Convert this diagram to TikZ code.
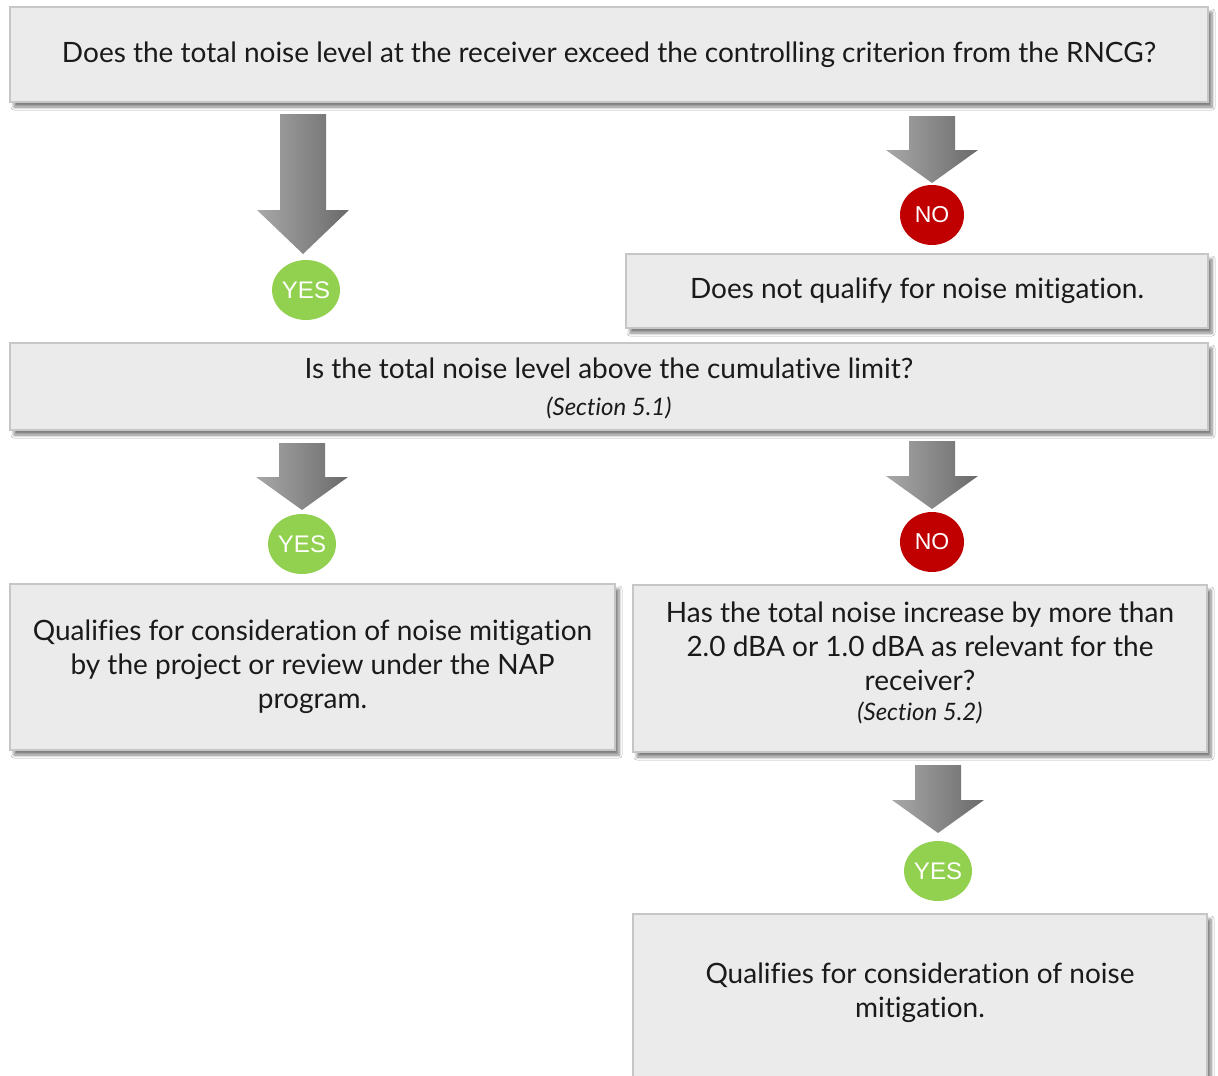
\documentclass[tikz,border=0pt]{standalone}
\usepackage{fontspec}
\setmainfont[Ligatures=NoCommon]{Lato}
\newfontfamily\lblfont{Liberation Sans}
\usetikzlibrary{shapes.geometric,shadows.blur,positioning}
\definecolor{boxfill}{HTML}{EBEBEB}
\definecolor{boxborder}{HTML}{C6C6C6}
\definecolor{yesgreen}{HTML}{92D050}
\definecolor{nored}{HTML}{C00000}
\definecolor{txt}{HTML}{1A1A1A}
\definecolor{arrlight}{HTML}{A8A8A8}
\definecolor{arrdark}{HTML}{6A6A6A}
\newcommand{\mainsz}{\fontsize{28}{34}\selectfont}
\newcommand{\smallit}{\fontsize{24}{32}\selectfont\itshape}
\tikzset{
  box/.style={draw=boxborder, line width=1.2pt, fill=boxfill, align=center, font=\mainsz, text=txt, inner sep=0pt,
    blur shadow={shadow xshift=4pt, shadow yshift=-5pt, shadow blur steps=6, shadow blur radius=3pt, shadow opacity=50}},
  boxtext/.style={align=center, font=\mainsz, text=txt, inner sep=0pt},
  yeslbl/.style={ellipse, fill=yesgreen, text=white, minimum width=64pt, minimum height=60pt, inner sep=0pt, font=\lblfont\fontsize{24}{26}\selectfont},
  nolbl/.style={ellipse, fill=nored, text=white, minimum width=64pt, minimum height=60pt, inner sep=0pt, font=\lblfont\fontsize{23}{26}\selectfont},
  blockarr/.style={left color=arrlight, right color=arrdark, draw=none}
}
% block arrow: #1 center x, #2 top y, #3 neck y, #4 tip y
\newcommand{\blockarrow}[4]{%
  \path[blockarr] (#1-23,#2) -- (#1+23,#2) -- (#1+23,#3) -- (#1+46,#3) -- (#1,#4) -- (#1-46,#3) -- (#1-23,#3) -- cycle;}
\begin{document}
\begin{tikzpicture}[x=1pt,y=-1pt]
\clip (0,0) rectangle (1218,1076);
\fill[white] (0,0) rectangle (1218,1076);

% boxes
\node[box, minimum width=1198pt, minimum height=95pt] (q1) at (609,54.5)
  {Does the total noise level at the receiver exceed the controlling criterion from the RNCG?};
\node[box, minimum width=582pt, minimum height=74pt] (nq) at (917,291)
  {Does not qualify for noise mitigation.};
\node[box, minimum width=1198pt, minimum height=87pt] (q2) at (609,386.5) {};
\node[boxtext] (q2t) at (609,388.5)
  {Is the total noise level above the cumulative limit?\\[3pt]{\smallit (Section 5.1)}};
\node[box, minimum width=605pt, minimum height=166pt] (qa) at (312.5,667)
  {Qualifies for consideration of noise mitigation\\by the project or review under the NAP\\program.};
\node[box, minimum width=574pt, minimum height=167pt] (q3) at (920,668.5) {};
\node[boxtext] (q3t) at (920,662.5)
  {Has the total noise increase by more than\\2.0 dBA or 1.0 dBA as relevant for the\\receiver?\\[-4pt]{\smallit (Section 5.2)}};
\node[box, minimum width=574pt, minimum height=176pt] (qb) at (920,1002) {};
\node[boxtext] (qbt) at (920,993)
  {Qualifies for consideration of noise\\mitigation.};

% arrows
\blockarrow{303}{114}{210}{254}
\blockarrow{932}{116}{150}{183}
\blockarrow{302}{443}{477}{510}
\blockarrow{932}{441}{476}{509}
\blockarrow{938}{765}{800}{833}

% labels
\node[yeslbl] (y1) at (306,290) {YES};
\node[nolbl] (n1) at (932,215) {NO};
\node[yeslbl] (y2) at (302,544) {YES};
\node[nolbl] (n2) at (932,542) {NO};
\node[yeslbl] (y3) at (938,871) {YES};
\end{tikzpicture}
\end{document}
